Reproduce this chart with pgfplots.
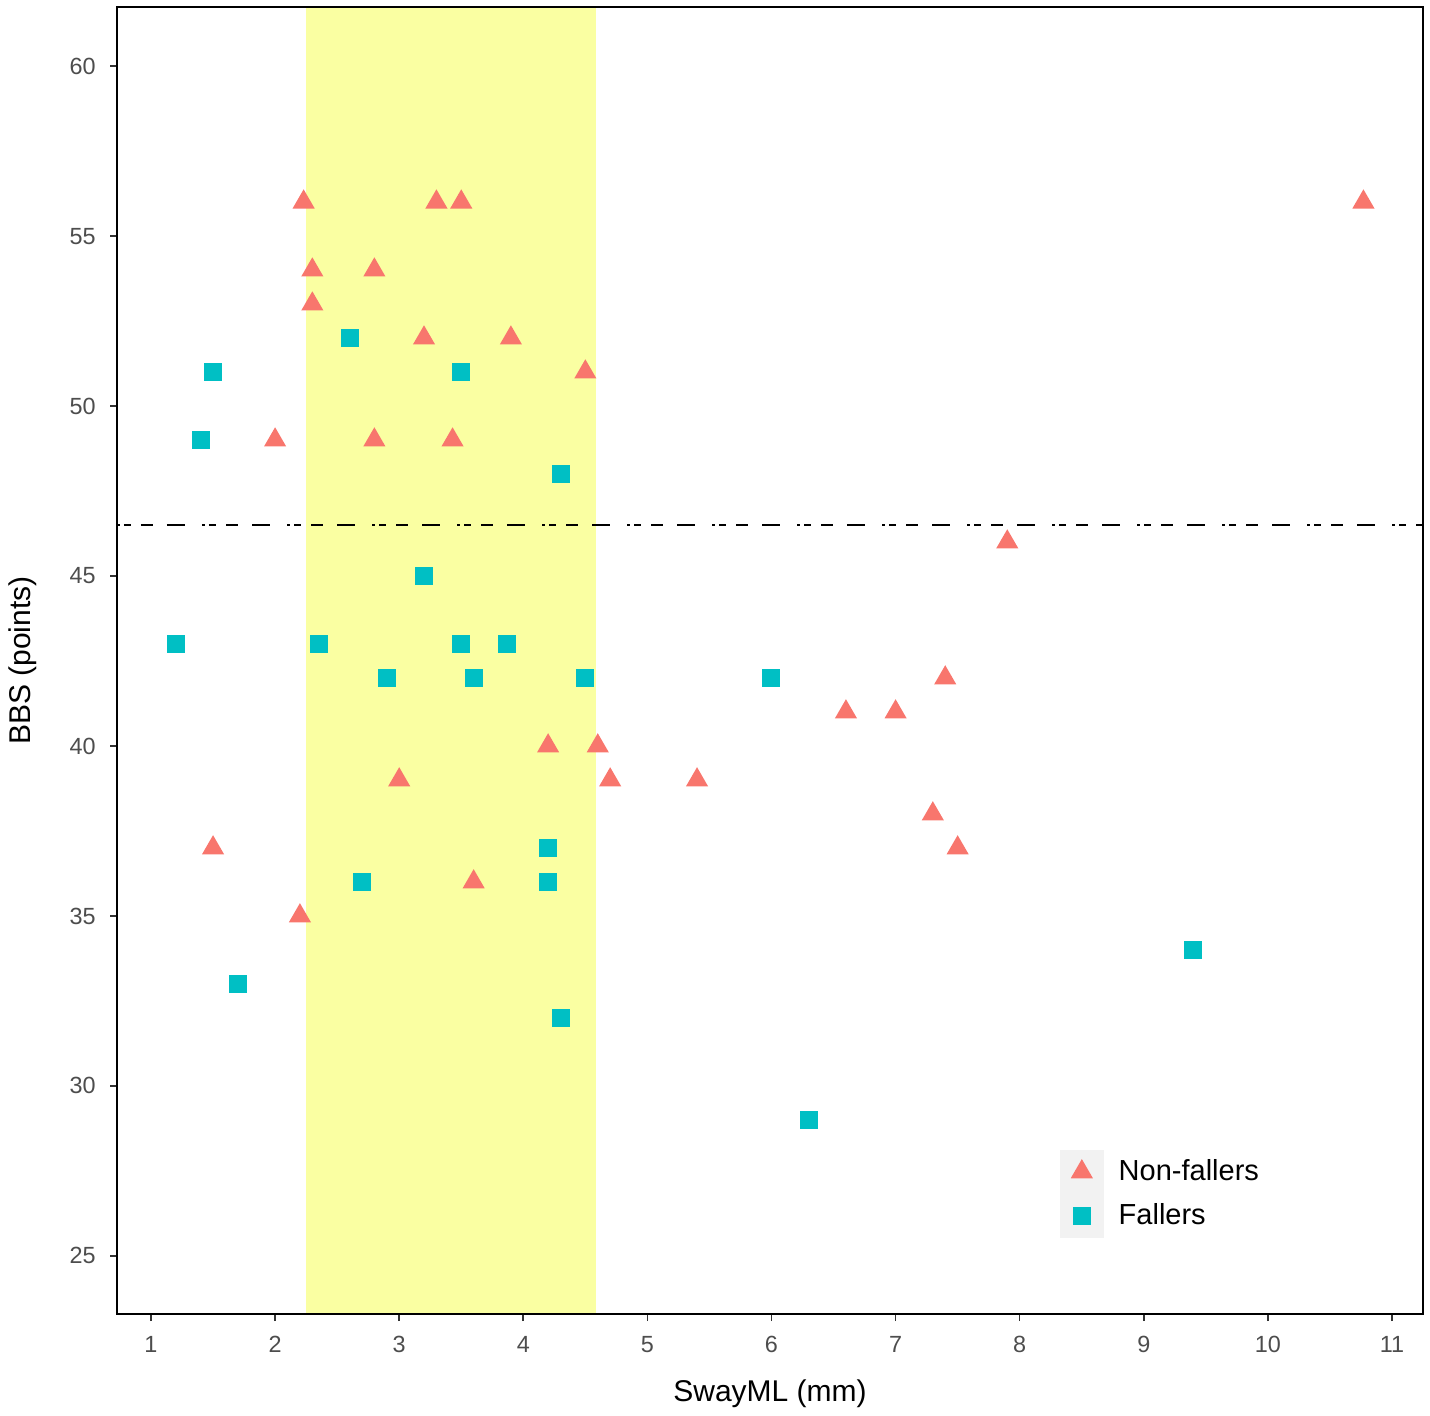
\documentclass[border=0pt]{standalone}
\usepackage{fontspec}
\setmainfont{Liberation Sans}
\usepackage{pgfplots}
\pgfplotsset{compat=1.18}
\definecolor{nonfall}{HTML}{F8766D}
\definecolor{fall}{HTML}{00BFC4}
\definecolor{band}{HTML}{FAFFA2}
\definecolor{ticklab}{HTML}{4D4D4D}
\begin{document}
\begin{tikzpicture}
\begin{axis}[
  name=ax,
  scale only axis,
  width=653pt, height=653.5pt,
  xmin=0.726, xmax=11.25,
  ymin=23.29, ymax=61.74,
  xtick={1,2,...,11},
  ytick={25,30,...,60},
  tick pos=left,
  tick align=outside,
  major tick length=3.5pt,
  tick style={black!80, line width=0.8pt},
  axis line style={black, line width=0.8pt},
  axis on top,
  /pgf/number format/assume math mode=true,
  ticklabel style={font=\fontsize{11.7}{13}\selectfont, text=ticklab},
  xticklabel style={inner sep=0pt, yshift=-7.5pt},
  yticklabel style={inner sep=0pt, xshift=-7pt},
  xlabel={SwayML (mm)},
  ylabel={BBS (points)},
  every axis x label/.style={at={(axis description cs:0.5,-0.0673)}, anchor=base, font=\fontsize{15}{18}\selectfont},
  every axis y label/.style={at={(axis description cs:-0.0666,0.5)}, rotate=90, anchor=base, font=\fontsize{15}{18}\selectfont},
  legend style={draw=none, fill=none, inner sep=0pt, outer sep=0pt,
    row sep=0pt, column sep=0pt, cells={anchor=west},
    nodes={inner xsep=7.5pt, inner ysep=0pt},
    at={(0.722,0.1255)}, anchor=north west,
    font=\fontsize{14.5}{17}\selectfont},
  legend image code/.code={
    \fill[black!5] (-10.75pt,-10.75pt) rectangle (10.75pt,10.75pt);
    \draw[mark repeat=2,mark phase=2,#1] plot coordinates {(-1pt,0pt) (0pt,0pt) (1pt,0pt)};
  },
]
% highlighted band
\addplot[fill=band, draw=none, forget plot] coordinates {(2.249,20) (4.586,20) (4.586,65) (2.249,65)} -- cycle;
% threshold line
\addplot[black, line width=1pt, forget plot,
  dash pattern=on 1.5pt off 2pt on 3.5pt off 5pt on 6pt off 7pt on 9pt off 8.5pt]
  coordinates {(0.726,46.5) (11.25,46.5)};
% Non-fallers
\addplot[only marks, mark=triangle*, mark size=6.4pt, color=nonfall, mark options={draw opacity=0}]
coordinates {
(2.23,56)(3.30,56)(3.50,56)(10.77,56)
(2.30,54)(2.80,54)
(2.30,53)
(3.20,52)(3.90,52)
(4.50,51)
(2.00,49)(2.80,49)(3.43,49)
(7.90,46)
(7.40,42)
(6.60,41)(7.00,41)
(4.20,40)(4.60,40)
(3.00,39)(4.70,39)(5.40,39)
(7.30,38)
(1.50,37)(7.50,37)
(3.60,36)
(2.20,35)
};
\addlegendentry{Non-fallers}
% Fallers
\addplot[only marks, mark=square*, mark size=4.5pt, color=fall, mark options={draw opacity=0}]
coordinates {
(2.60,52)(1.50,51)(3.50,51)(1.40,49)(4.30,48)(3.20,45)
(1.20,43)(2.35,43)(3.50,43)(3.87,43)
(2.90,42)(3.60,42)(4.50,42)(6.00,42)
(4.20,37)(2.70,36)(4.20,36)(1.70,33)(4.30,32)(6.30,29)(9.40,34)
};
\addlegendentry{Fallers}
\end{axis}
\pgfresetboundingbox
\path (ax.south west) ++(-58.5pt,-50.5pt) rectangle ++(715pt,707.5pt);
\end{tikzpicture}
\end{document}
